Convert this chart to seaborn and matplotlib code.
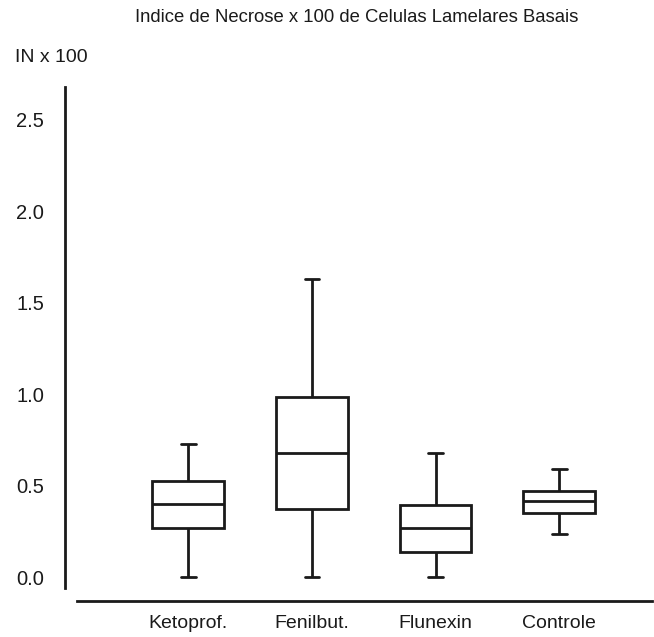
import matplotlib
matplotlib.use("Agg")
import matplotlib.pyplot as plt
import pandas as pd
import seaborn as sns

# five-number summaries (min, q1, median, q3, max)
groups = ["Ketoprof.", "Fenilbut.", "Flunexin", "Controle"]
ketoprof = [0.0, 0.266, 0.398, 0.527, 0.73]
fenilbut = [0.0, 0.370, 0.680, 0.986, 1.63]
flunexin = [0.0, 0.135, 0.266, 0.394, 0.677]
controle = [0.235, 0.348, 0.416, 0.470, 0.591]

yticks = [0.0, 0.5, 1.0, 1.5, 2.0, 2.5]

df = pd.DataFrame({
    "grupo": [g for g, vals in zip(groups, [ketoprof, fenilbut, flunexin, controle]) for _ in vals],
    "IN": ketoprof + fenilbut + flunexin + controle,
})

sns.set_style("white")
plt.rcParams["font.family"] = ["Liberation Sans", "DejaVu Sans"]

ink = "#1a1a1a"
fig = plt.figure(figsize=(6.54, 6.37), dpi=100)
ax = fig.add_axes([77 / 654, 1 - 588 / 637, 575 / 654, 501 / 637])

box_w = 0.58
sns.boxplot(
    data=df, x="grupo", y="IN", order=groups, whis=(0, 100), width=box_w,
    color="white", linecolor=ink, linewidth=2.0, fliersize=0, ax=ax,
)
# whisker caps are shorter than the boxes
for line in ax.lines:
    xd = line.get_xdata()
    if len(xd) == 2 and xd[0] != xd[1] and abs(xd[1] - xd[0]) < box_w * 0.75:
        mid = (xd[0] + xd[1]) / 2
        line.set_xdata([mid - 0.06, mid + 0.06])

ax.set_xlim(-0.9, 3.75)
ax.set_ylim(-0.06, 2.68)
ax.set_yticks(yticks)
ax.set_yticklabels([f"{t:.1f}" for t in yticks])
ax.set_xlabel("")
ax.set_ylabel("")
ax.tick_params(axis="both", length=0, colors=ink)
ax.tick_params(axis="y", pad=15, labelsize=14.5)
ax.tick_params(axis="x", pad=10, labelsize=14)

sns.despine(ax=ax, offset={"left": 8.6, "bottom": 9.4})
for side in ["left", "bottom"]:
    ax.spines[side].set_color(ink)
    ax.spines[side].set_linewidth(2.0)

fig.text(357 / 654, 1 - 17 / 637, "Indice de Necrose x 100 de Celulas Lamelares Basais",
         ha="center", va="center", fontsize=13.3, color=ink)
fig.text(15 / 654, 1 - 58 / 637, "IN x 100", ha="left", va="center", fontsize=14, color=ink)

fig.savefig("out.png", dpi=100)
